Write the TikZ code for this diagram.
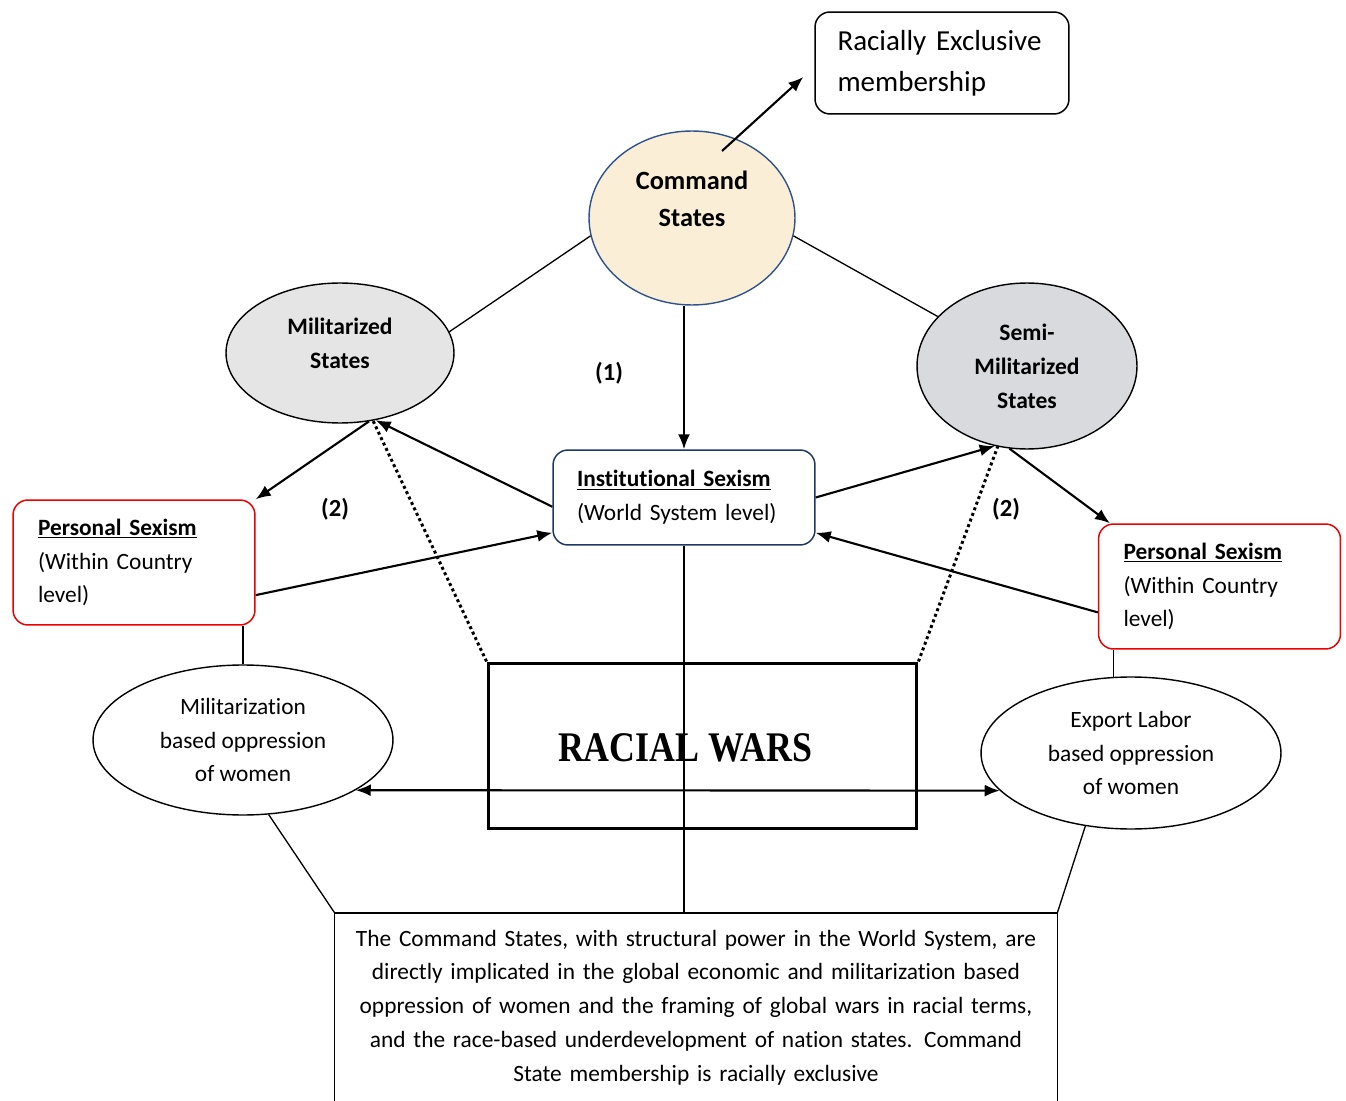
\documentclass[tikz,border=0pt]{standalone}
\usepackage{fontspec}
\setmainfont{Carlito}[Ligatures=NoCommon]
\newfontfamily\warsfont{Liberation Serif}
\usetikzlibrary{
  shapes.geometric,
  arrows.meta,
  positioning,
  calc
}
\definecolor{commandfill}{RGB}{250, 239, 214}
\definecolor{commanddraw}{RGB}{47, 82, 143}
\definecolor{instdraw}{RGB}{31, 56, 100}
\definecolor{militaryfill}{RGB}{229, 229, 229}
\definecolor{semifill}{RGB}{216, 218, 222}
\definecolor{personaldraw}{RGB}{238, 0, 0}

\begin{document}
\begin{tikzpicture}[
    x=0.02cm, y=-0.02cm,
    % Estilos de texto
    basetext/.style={font=\fontsize{13.3}{19.3}\selectfont},
    boldtext/.style={font=\fontsize{13.4}{19.3}\selectfont\bfseries, align=center},
    numlabel/.style={font=\fontsize{14}{17}\selectfont\bfseries},
    warslabel/.style={font=\warsfont\bfseries\fontsize{24}{28}\selectfont},
    % Estilos das elipses
    stateellipse/.style={ellipse, draw=black, line width=0.8pt, inner sep=0pt, boldtext},
    commandellipse/.style={stateellipse, draw=commanddraw, fill=commandfill},
    oppressionellipse/.style={ellipse, draw=black, line width=0.8pt, inner sep=0pt,
        minimum width=6cm, minimum height=3cm, basetext, align=center},
    % Estilos dos blocos
    block/.style={rectangle, rounded corners=3mm, line width=0.85pt, basetext, align=left},
    sexismblock/.style={block, draw=instdraw, minimum height=1.9cm,
        text width=4.28cm, inner xsep=0.48cm},
    personalblock/.style={block, draw=personaldraw, minimum height=2.5cm,
        text width=3.84cm, inner xsep=0.5cm},
    memberblock/.style={block, draw=black, minimum height=2.04cm,
        text width=4.18cm, inner xsep=0.45cm, font=\fontsize{16.5}{23.2}\selectfont},
    warsblock/.style={rectangle, draw=black, line width=1.7pt,
        minimum width=8.58cm, minimum height=3.32cm},
    notebox/.style={rectangle, basetext, align=center, text width=14cm,
        inner xsep=0.22cm, inner ysep=3.3mm},
    % Estilos das setas
    arrow/.style={-{Latex[length=3mm, width=2.4mm]}, line width=1.2pt},
    dblarrow/.style={{Latex[length=3mm, width=2.4mm]}-{Latex[length=3mm, width=2.4mm]}, line width=1.2pt},
    link/.style={line width=0.75pt},
    dottedlink/.style={line width=1.7pt, dash pattern=on 1.7pt off 1.7pt},
]
\useasboundingbox (0, 0) rectangle (1346, 1101);
\coordinate (pagebottom) at (0, 1101);

% ============================================================================
% ESTADOS
% ============================================================================
\node[commandellipse, minimum width=4.12cm, minimum height=3.48cm] (cmd) at (692, 218) {};
\node[boldtext, font=\fontsize{15}{21}\selectfont\bfseries] (cmdtext) at (692, 199) {Command\\States};
\node[stateellipse, fill=militaryfill, minimum width=4.56cm, minimum height=2.8cm] (mil) at (340, 353) {};
\node[boldtext] (miltext) at (340, 343) {Militarized\\States};
\node[stateellipse, fill=semifill, minimum width=4.4cm, minimum height=3.32cm] (semi) at (1027, 366) {Semi-\\Militarized\\States};

\node[memberblock] (raceex) at (942, 63) {Racially Exclusive\\membership};
\coordinate (exstart) at (722, 151);

% ============================================================================
% SEXISMO
% ============================================================================
\node[sexismblock] (inst) at (684, 497.5) {{\bfseries\underline{Institutional Sexism}}\\(World System level)};
\node[personalblock] (persL) at (134, 562.5) {{\bfseries\underline{Personal Sexism}}\\(Within Country\\level)};
\node[personalblock] (persR) at (1219.5, 586.5) {{\bfseries\underline{Personal Sexism}}\\(Within Country\\level)};

\node[numlabel] (one) at (609, 373) {(1)};
\node[numlabel] (twoL) at (335, 509) {(2)};
\node[numlabel] (twoR) at (1006, 509) {(2)};

% ============================================================================
% GUERRAS E OPRESSAO
% ============================================================================
\node[warsblock] (wars) at (702.5, 746) {};
\node[warslabel] (warstext) at (685, 748) {\scalebox{0.85}[1]{RACIAL WARS}};
\node[oppressionellipse] (milw) at (243, 740) {Militarization\\based oppression\\of women};
\node[oppressionellipse, minimum height=3.04cm] (expw) at (1131, 753) {Export Labor\\based oppression\\of women};

\node[notebox, anchor=north] (note) at (696, 913) {The Command States, with structural power in the World System, are\\
directly implicated in the global economic and militarization based\\
oppression of women and the framing of global wars in racial terms,\\
and the race-based underdevelopment of nation states. Command\\
State membership is racially exclusive};

% ============================================================================
% CONEXOES
% ============================================================================
\draw[arrow] (exstart) -- ([xshift=-2.2mm, yshift=-2.8mm]raceex.west);
\draw[link] (cmd.190) -- (mil.11);
\draw[link] (cmd.-10) -- (semi.151);
\draw[arrow] (inst.north |- cmd.south) -- (inst.north);

\draw[arrow] (mil.-67) -- (persL.north east);
\draw[arrow] (inst.184) -- (mil.-62);
\draw[arrow] (persL.-15.5) -- (inst.195);
\draw[dottedlink] (wars.north west) -- (mil.-64);

\draw[arrow] (inst.east) -- (semi.248);
\draw[arrow] (semi.258) -- (persR.150);
\draw[arrow] (persR.192.4) -- (inst.-15);
\draw[dottedlink] (wars.north east) -- (semi.250);

\draw[link] (inst.south) -- (inst.south |- note.north);
\draw[link] (milw.north) -- (milw.north |- persL.south);
\draw[link] (expw.103.4) -- (expw.103.4 |- persR.south);
\draw[dblarrow] (milw.-24.2) -- (expw.196.8);

\draw[link] (milw.-71.6) -- (note.north west);
\draw[link] (expw.238.8) -- (note.north east);
\draw[link] (note.north west |- pagebottom) -- (note.north west) -- (note.north east) -- (note.north east |- pagebottom);
\end{tikzpicture}
\end{document}
